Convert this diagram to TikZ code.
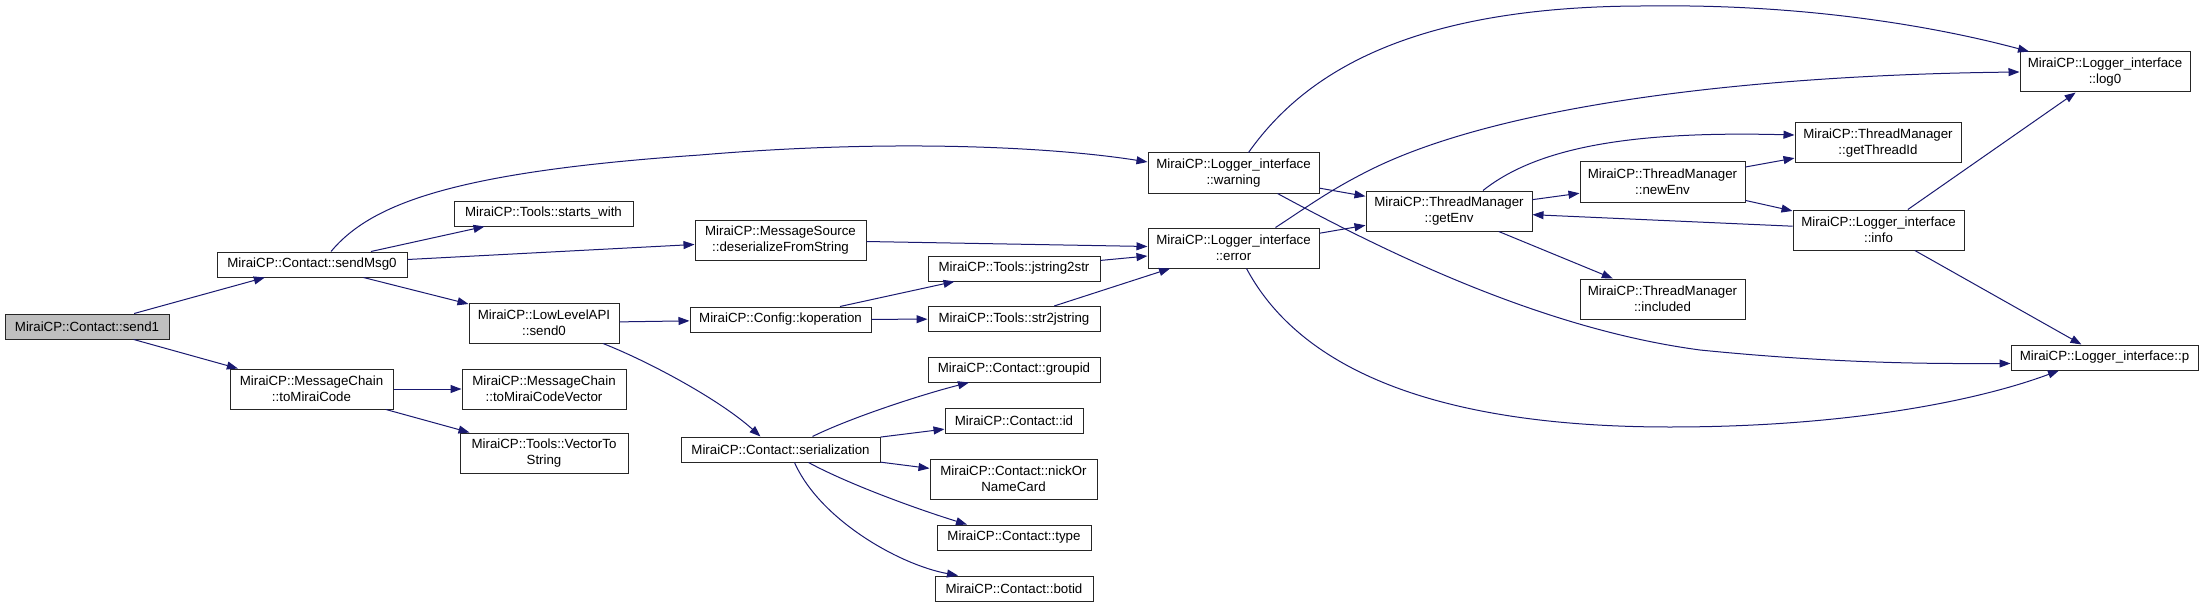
\documentclass[tikz,border=0pt]{standalone}
\usepackage{fontspec}
\setmainfont{Liberation Sans}
\usetikzlibrary{arrows.meta}
\definecolor{edgeblue}{HTML}{191970}
\begin{document}
\begin{tikzpicture}[x=1pt,y=-1pt,>={Triangle[length=11pt,width=8pt]},
  font=\fontsize{13.3}{16}\selectfont,
  box/.style={draw=black!85,fill=white,line width=1pt,inner sep=0pt,minimum height=25pt,align=center},
  tall/.style={box,minimum height=40pt},
  call/.style={->,draw=edgeblue,line width=1pt}]
  \path[use as bounding box,fill=white] (0,0) rectangle (2204,607);
  \node[box,fill=gray!50,minimum width=164pt] (send1) at (87,326.5) {MiraiCP::Contact::send1};
  \node[box,minimum width=190pt] (sendMsg0) at (312,264.5) {MiraiCP::Contact::sendMsg0};
  \node[tall,minimum width=163pt] (toMiraiCode) at (311.5,389) {MiraiCP::MessageChain\\::toMiraiCode};
  \node[box,minimum width=179pt] (startsWith) at (543.5,213.5) {MiraiCP::Tools::starts\_with};
  \node[tall,minimum width=150pt] (send0) at (544,323) {MiraiCP::LowLevelAPI\\::send0};
  \node[tall,minimum width=164pt] (codeVector) at (544,389) {MiraiCP::MessageChain\\::toMiraiCodeVector};
  \node[tall,minimum width=168pt] (vecToString) at (544,453) {MiraiCP::Tools::VectorTo\\String};
  \node[tall,minimum width=171pt] (deserialize) at (780.5,240) {MiraiCP::MessageSource\\::deserializeFromString};
  \node[box,minimum width=181pt] (koperation) at (780.5,319.5) {MiraiCP::Config::koperation};
  \node[box,minimum width=199pt] (serialization) at (780.5,449.5) {MiraiCP::Contact::serialization};
  \node[box,minimum width=172pt] (jstring2str) at (1014,268.5) {MiraiCP::Tools::jstring2str};
  \node[box,minimum width=172pt] (str2jstring) at (1014,319) {MiraiCP::Tools::str2jstring};
  \node[box,minimum width=172pt] (groupid) at (1014,369.5) {MiraiCP::Contact::groupid};
  \node[box,minimum width=138pt] (id) at (1014,420.5) {MiraiCP::Contact::id};
  \node[tall,minimum width=167pt] (nickName) at (1013.5,479) {MiraiCP::Contact::nickOr\\NameCard};
  \node[box,minimum width=154pt] (type) at (1014,537.5) {MiraiCP::Contact::type};
  \node[box,minimum width=158pt] (botid) at (1014,588.5) {MiraiCP::Contact::botid};
  \node[tall,minimum width=171pt] (warning) at (1233.5,173) {MiraiCP::Logger\_interface\\::warning};
  \node[tall,minimum width=171pt] (error) at (1233.5,248) {MiraiCP::Logger\_interface\\::error};
  \node[tall,minimum width=166pt] (getEnv) at (1449,211) {MiraiCP::ThreadManager\\::getEnv};
  \node[tall,minimum width=165pt] (newEnv) at (1662.5,182) {MiraiCP::ThreadManager\\::newEnv};
  \node[tall,minimum width=165pt] (included) at (1662.5,299) {MiraiCP::ThreadManager\\::included};
  \node[tall,minimum width=166pt] (threadId) at (1878,143) {MiraiCP::ThreadManager\\::getThreadId};
  \node[tall,minimum width=171pt] (info) at (1878.5,230) {MiraiCP::Logger\_interface\\::info};
  \node[tall,minimum width=170pt] (log0) at (2105,72) {MiraiCP::Logger\_interface\\::log0};
  \node[box,minimum width=187pt] (p) at (2104.5,357.5) {MiraiCP::Logger\_interface::p};
  \draw[call] (send1) -- (sendMsg0);
  \draw[call] (send1) -- (toMiraiCode);
  \draw[call] ([xshift=19pt]sendMsg0.north) .. controls (370,205) and (450,172) .. (700,155)
    .. controls (900,138) and (1060,148) .. ([yshift=11pt]warning.west);
  \draw[call] (sendMsg0) -- (startsWith);
  \draw[call] (sendMsg0) -- (deserialize);
  \draw[call] (sendMsg0) -- (send0);
  \draw[call] (toMiraiCode) -- (codeVector);
  \draw[call] (toMiraiCode) -- (vecToString);
  \draw[call] (deserialize) -- (error);
  \draw[call] (send0) -- (koperation);
  \draw[call] ([xshift=59pt]send0.south) .. controls (650,362) and (720,400) .. ([xshift=-20pt]serialization.north);
  \draw[call] (koperation) -- (jstring2str);
  \draw[call] (koperation) -- (str2jstring);
  \draw[call] (jstring2str) -- (error);
  \draw[call] (str2jstring) -- (error);
  \draw[call] ([xshift=32pt]serialization.north) .. controls (850,418) and (920,395) .. ([xshift=-45pt]groupid.south);
  \draw[call] (serialization) -- (id);
  \draw[call] (serialization) -- (nickName);
  \draw[call] ([xshift=28pt]serialization.south) .. controls (850,485) and (920,510) .. ([xshift=-47pt]type.north);
  \draw[call] ([xshift=14pt]serialization.south) .. controls (820,520) and (900,565) .. ([xshift=-56pt]botid.north);
  \draw[call] ([xshift=15pt]warning.north) .. controls (1300,80) and (1400,5) .. (1650,6)
    .. controls (1800,4) and (1930,25) .. ([xshift=-76pt]log0.north);
  \draw[call] (warning) -- (getEnv);
  \draw[call] ([xshift=44pt]warning.south) .. controls (1400,260) and (1550,330) .. (1700,350)
    .. controls (1850,365) and (1950,363.5) .. ([yshift=-6pt]p.west);
  \draw[call] (error) -- (getEnv);
  \draw[call] ([xshift=42pt]error.north) .. controls (1310,205) and (1330,190) .. (1370,170)
    .. controls (1500,105) and (1750,75) .. (log0.west);
  \draw[call] ([xshift=13pt]error.south) .. controls (1290,350) and (1400,427) .. (1670,427)
    .. controls (1850,427) and (1980,400) .. ([xshift=-45.5pt]p.south);
  \draw[call] (getEnv) -- (newEnv);
  \draw[call] ([xshift=34pt]getEnv.north) .. controls (1540,145) and (1640,131) .. ([yshift=8pt]threadId.west);
  \draw[call] (getEnv) -- (included);
  \draw[call] (info) -- (getEnv);
  \draw[call] (newEnv) -- (threadId);
  \draw[call] (newEnv) -- (info);
  \draw[call] (info) -- (log0);
  \draw[call] (info) -- (p);
\end{tikzpicture}
\end{document}
